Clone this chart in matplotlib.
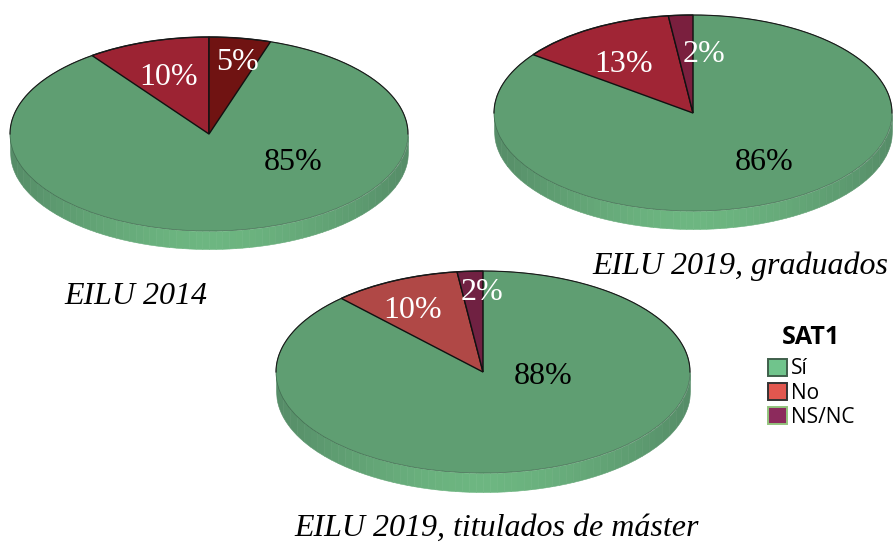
import numpy as np
import matplotlib
matplotlib.use("Agg")
import matplotlib.pyplot as plt
from matplotlib.patches import Patch

W, H = 893, 544

pie_titles = ["EILU 2014", "EILU 2019, graduados", "EILU 2019, titulados de máster"]
pie_categories = ["Sí", "No", "NS/NC"]
legend_title = "SAT1"
values_2014 = [85, 10, 5]
values_grad = [86, 13, 2]
values_master = [88, 10, 2]

colors_2014 = ["#5f9e72", "#9c2333", "#701312"]
colors_grad = ["#5f9e72", "#a02535", "#7a1f3e"]
colors_master = ["#5f9e72", "#b04846", "#702142"]
legend_colors = ["#70c48c", "#e2574f", "#8c2a5c"]
legend_edges = ["#3f5f4b", "#333333", "#93c47d"]

plt.rcParams["font.family"] = ["Liberation Serif", "DejaVu Serif"]
fig = plt.figure(figsize=(W / 100, H / 100), dpi=100, facecolor="white")


def draw_pie(values, colors, cx, cy, rx, ry, depth, start):
    ax = fig.add_axes([(cx - rx) / W, 1 - (cy + ry + depth) / H, 2 * rx / W, (2 * ry + depth) / H])
    d = depth / ry
    wedges, _ = ax.pie(values, colors=colors, startangle=start, counterclock=False, radius=1,
                       wedgeprops=dict(edgecolor="#111111", linewidth=1.0))
    wedges[0].set_edgecolor("#3f6a4e")
    wedges[0].set_linewidth(0.5)
    for w in wedges[1:]:
        w.set_zorder(wedges[0].get_zorder() + 1)
    ax.set_aspect("auto")
    ax.set_xlim(-1, 1)
    ax.set_ylim(-1 - d, 1)
    ax.axis("off")
    for w in wedges:
        w.set_clip_on(False)
    # dark rim along the back of the disc
    t = np.linspace(0, np.pi, 200)
    ax.plot(np.cos(t), np.sin(t), color="#1a1a1a", lw=0.8, zorder=5, clip_on=False)
    # side wall of the disc, lighter towards the front
    edges = np.linspace(-1, 1, 61)
    dark = np.array(matplotlib.colors.to_rgb("#558c67"))
    light = np.array(matplotlib.colors.to_rgb("#6db681"))
    for a, b in zip(edges[:-1], edges[1:]):
        xs = np.linspace(a, b, 12)
        low = -np.sqrt(np.clip(1 - xs ** 2, 0, 1))
        f = 1 - abs((a + b) / 2) ** 1.5
        ax.fill_between(xs, low - d, low, color=dark + (light - dark) * f, linewidth=0.4, zorder=0)


draw_pie(values_2014, colors_2014, 209, 134, 199, 97, 18, 72)
draw_pie(values_grad, colors_grad, 693, 113, 199, 98, 18, 90)
draw_pie(values_master, colors_master, 483, 372, 207, 101, 19, 90)


def label(x, y, s, color="black", size=23, style="normal", va="center"):
    fig.text(x / W, 1 - y / H, s, color=color, fontsize=size, style=style, ha="center", va=va)


label(293, 162, f"{values_2014[0]}%")
label(169, 78, f"{values_2014[1]}%", "white")
label(237, 62, f"{values_2014[2]}%", "white")
label(764, 162, f"{values_grad[0]}%")
label(624, 64, f"{values_grad[1]}%", "white")
label(704, 54, f"{values_grad[2]}%", "white")
label(543, 376, f"{values_master[0]}%")
label(413, 311, f"{values_master[1]}%", "white")
label(482, 292, f"{values_master[2]}%", "white")

label(136, 304, pie_titles[0], style="italic", va="baseline")
label(740, 274, pie_titles[1], style="italic", va="baseline")
label(497, 536, pie_titles[2], style="italic", va="baseline")

fig.text(811 / W, 1 - 338 / H, legend_title, family="Open Sans", weight="bold", fontsize=18,
         ha="center", va="center")
handles = [Patch(facecolor=c, edgecolor=e, linewidth=1.4, label=n)
           for c, e, n in zip(legend_colors, legend_edges, pie_categories)]
leg = fig.legend(handles=handles, loc="upper left",
                 bbox_to_anchor=(762 / W, 1 - 352 / H), frameon=False,
                 prop=dict(family="Open Sans", size=15),
                 handlelength=0.88, handleheight=0.88, handletextpad=0.22, labelspacing=0.16,
                 borderpad=0.3, borderaxespad=0)

fig.savefig("out.png", dpi=100)
